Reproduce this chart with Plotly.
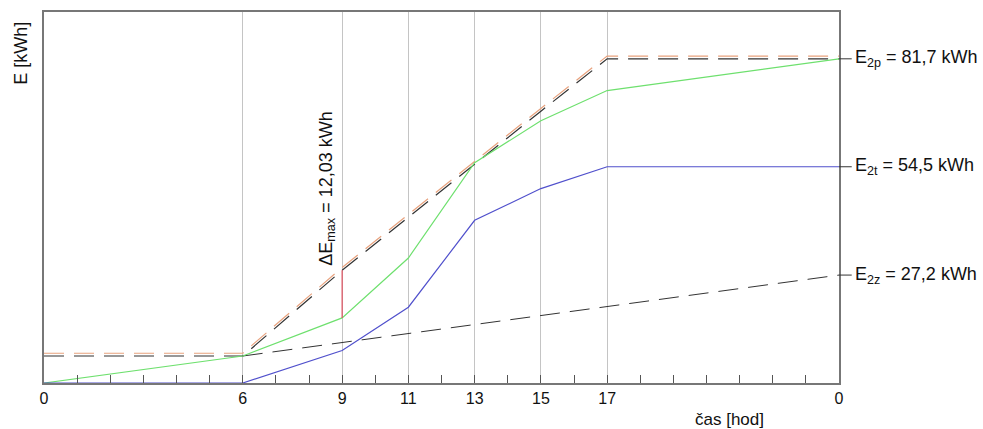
import plotly.graph_objects as go

# ---- data ----
hours = [0, 6, 9, 11, 13, 15, 17, 24]
tick_labels = ["0", "6", "9", "11", "13", "15", "17", "0"]
E_t = [0, 0, 8.2, 19.1, 41.0, 49.0, 54.5, 54.5]          # blue
E_g = [0, 6.8, 16.4, 31.5, 55.5, 66.1, 73.7, 81.7]       # green
E_p = [6.8, 6.8, 28.4, 41.8, 55.3, 68.5, 81.7, 81.7]     # black dashed (upper)
p_offset = 0.7                                            # orange companion line
z_hours = [6, 24]
E_z = [6.8, 27.2]                                         # black dashed (lower)
dE_hour = 9
labels_right = [
    ("E<sub>2p</sub> = 81,7 kWh", 81.7),
    ("E<sub>2t</sub> = 54,5 kWh", 54.5),
    ("E<sub>2z</sub> = 27,2 kWh", 27.2),
]
dE_text = "ΔE<sub>max</sub> = 12,03 kWh"

FONT = "Liberation Sans, Arial, sans-serif"

fig = go.Figure()

fig.add_trace(go.Scatter(x=z_hours, y=E_z, mode="lines",
                         line=dict(color="#333333", width=1, dash="20px,10px")))
fig.add_trace(go.Scatter(x=hours, y=[v + p_offset for v in E_p], mode="lines",
                         line=dict(color="#e8a27e", width=1.2, dash="20px,10px")))
fig.add_trace(go.Scatter(x=hours, y=E_p, mode="lines",
                         line=dict(color="#333333", width=1.2, dash="20px,10px")))
fig.add_trace(go.Scatter(x=hours, y=E_g, mode="lines",
                         line=dict(color="#6ee06e", width=1.2)))
fig.add_trace(go.Scatter(x=hours, y=E_t, mode="lines",
                         line=dict(color="#5050cc", width=1.2)))

i9 = hours.index(dE_hour)
fig.add_trace(go.Scatter(x=[dE_hour, dE_hour], y=[E_g[i9], E_p[i9]], mode="lines",
                         line=dict(color="#e05060", width=1.2)))

annotations = []
shapes = []
for txt, val in labels_right:
    shapes.append(dict(type="line", xref="paper", yref="y", x0=1, x1=1.016,
                       y0=val, y1=val, line=dict(color="#333333", width=1)))
    annotations.append(dict(x=1, xref="paper", y=val, yref="y", xanchor="left",
                            yanchor="middle", xshift=14, showarrow=False, text=txt,
                            font=dict(family=FONT, size=18, color="#111111")))

annotations.append(dict(x=dE_hour, y=49, xref="x", yref="y", xshift=-15,
                        textangle=-90, showarrow=False, text=dE_text,
                        font=dict(family=FONT, size=18, color="#111111")))
annotations.append(dict(x=-0.03, y=1.0, xref="paper", yref="paper", xanchor="center",
                        yanchor="top", textangle=-90, showarrow=False, text="E [kWh]",
                        yshift=-8,
                        font=dict(family=FONT, size=18, color="#111111")))
annotations.append(dict(x=0.862, y=-0.068, xref="paper", yref="paper", xanchor="center",
                        yanchor="top", showarrow=False, text="čas [hod]",
                        font=dict(family=FONT, size=17, color="#111111")))

fig.update_layout(
    width=983, height=429,
    margin=dict(l=44, r=144, t=10, b=46),
    plot_bgcolor="white", paper_bgcolor="white",
    showlegend=False,
    annotations=annotations,
    shapes=shapes,
    font=dict(family=FONT, size=16, color="#111111"),
)
fig.update_xaxes(
    range=[0, 24], tickvals=hours, ticktext=tick_labels,
    showgrid=True, gridcolor="#c4c4c4", gridwidth=1,
    showline=True, linecolor="#777777", linewidth=1.5, mirror=True,
    ticks="inside", ticklen=8, tickcolor="#555555",
    minor=dict(dtick=1, ticks="inside", ticklen=8, tickcolor="#555555", showgrid=False),
    zeroline=False, tickfont=dict(family=FONT, size=16, color="#111111"),
)
fig.update_yaxes(
    range=[0, 93.5], showticklabels=False, showgrid=False, zeroline=False,
    showline=True, linecolor="#777777", linewidth=1.5, mirror=True, ticks="",
)

fig.write_html("out.html")
